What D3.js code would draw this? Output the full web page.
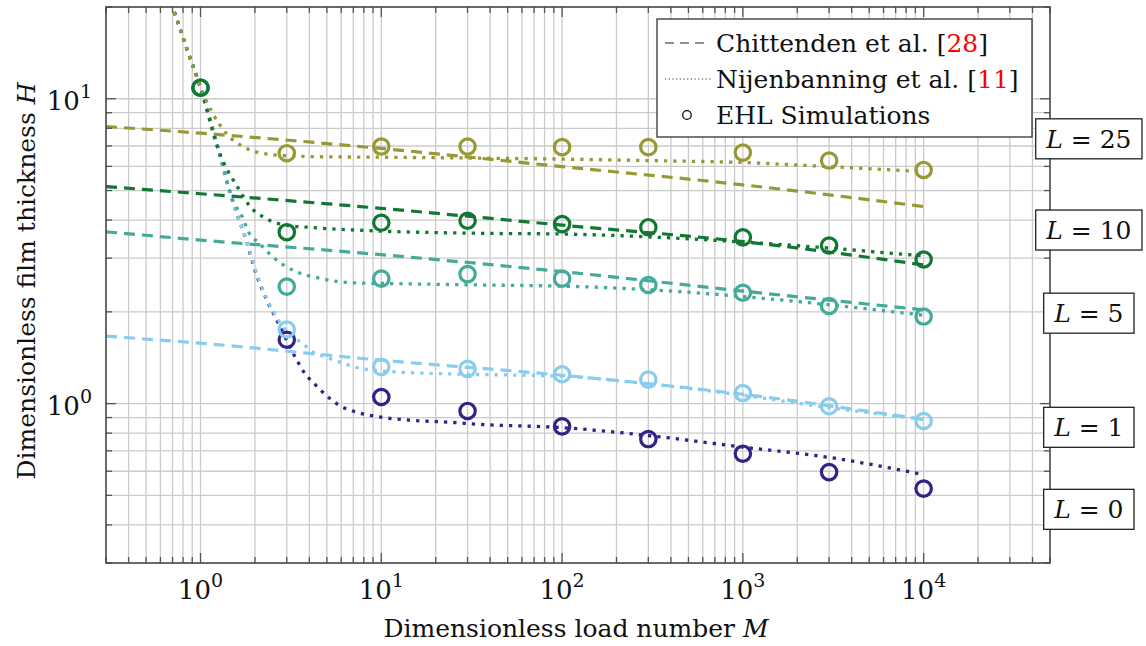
<!DOCTYPE html>
<html>
<head>
<meta charset="utf-8">
<script src="https://cdn.jsdelivr.net/npm/d3@7"></script>
<style>
  body { margin: 0; background: #fff; }
  svg { display: block; }
</style>
</head>
<body>
<svg id="chart" width="1146" height="646" font-family="'DejaVu Serif', 'Liberation Serif', serif"></svg>
<script>
// ---------------- data ----------------
// EHL simulation results: load number M vs. film thickness H for each L
const simM   = [1, 3, 10, 30, 100, 300, 1000, 3000, 10000];
const simL0  = [10.87, 1.62, 1.051, 0.946, 0.842, 0.765, 0.685, 0.596, 0.526];
const simL1  = [10.87, 1.75, 1.32, 1.30, 1.248, 1.199, 1.083, 0.98, 0.877];
const simL5  = [10.87, 2.42, 2.57, 2.66, 2.57, 2.45, 2.31, 2.09, 1.93];
const simL10 = [10.87, 3.65, 3.92, 3.98, 3.88, 3.79, 3.51, 3.30, 2.97];
const simL25 = [null, 6.63, 6.97, 6.97, 6.94, 6.94, 6.66, 6.27, 5.84];

// Chittenden et al. film thickness formula
const chittM   = [0.3, 1, 10, 100, 1000, 10000];
const chittL1  = [1.664, 1.578, 1.388, 1.239, 1.073, 0.887];
const chittL5  = [3.66, 3.44, 3.08, 2.71, 2.34, 2.03];
const chittL10 = [5.15, 4.88, 4.37, 3.85, 3.40, 2.85];
const chittL25 = [8.11, 7.71, 6.87, 5.99, 5.22, 4.43];

// Nijenbanning et al. curve fit
const nijM_L0 = [0.69, 0.85, 1, 1.26, 1.51, 1.78, 2.03, 2.35, 2.62, 3.37, 3.84, 4.17, 4.95, 5.86, 7.26, 9.75, 14.9, 22.9, 34.9, 100, 292, 1000, 2900, 10000];
const nijH_L0 = [20.6, 14.3, 10.87, 6.76, 4.57, 3.47, 2.67, 2.16, 1.90, 1.406, 1.239, 1.178, 1.065, 0.987, 0.938, 0.904, 0.881, 0.870, 0.855, 0.834, 0.787, 0.720, 0.668, 0.585];
const nijM_L1 = [0.69, 0.85, 1, 1.26, 1.51, 1.79, 2.11, 2.62, 2.97, 3.24, 3.67, 4.17, 4.95, 5.86, 7.89, 12.1, 30.8, 100, 292, 1000, 3000, 10000];
const nijH_L1 = [20.6, 14.3, 10.87, 6.76, 4.57, 3.44, 2.54, 1.93, 1.74, 1.655, 1.575, 1.478, 1.42, 1.37, 1.30, 1.27, 1.248, 1.23, 1.163, 1.065, 0.97, 0.888];
const nijM_L5 = [0.69, 0.85, 1, 1.26, 1.51, 1.70, 1.86, 2.11, 2.51, 3.24, 4.54, 6.95, 9.75, 34.9, 125, 447, 1585, 10000];
const nijH_L5 = [20.6, 14.3, 10.87, 6.76, 4.65, 4.1, 3.62, 3.36, 3.03, 2.74, 2.58, 2.49, 2.48, 2.45, 2.42, 2.33, 2.19, 1.95];
const nijM_L10 = [0.69, 0.85, 1, 1.26, 1.64, 1.87, 2.30, 2.97, 4.17, 10, 35, 100, 1000, 10000];
const nijH_L10 = [20.6, 14.3, 10.87, 6.76, 5.02, 4.45, 4.05, 3.85, 3.78, 3.68, 3.62, 3.60, 3.39, 3.05];
const nijM_L25 = [0.69, 0.85, 1, 1.167, 1.41, 1.71, 2.11, 2.51, 4.16, 10, 32, 100, 292, 1000, 2990, 10000];
const nijH_L25 = [20.6, 14.3, 10.87, 8.97, 7.62, 6.97, 6.66, 6.55, 6.46, 6.43, 6.39, 6.34, 6.27, 6.18, 5.99, 5.77];

// Series labels, colours and label anchor heights
const seriesNames  = ["L = 0", "L = 1", "L = 5", "L = 10", "L = 25"];
const seriesValues = ["0", "1", "5", "10", "25"];
const seriesColors = ["#332288", "#88ccee", "#44aa99", "#117733", "#999933"];
const labelH       = [0.45, 0.836, 1.98, 3.71, 7.39];
const labelM       = 8.2e4;

// Axis settings
const xDomain = [0.3, 5e4];
const yDomain = [0.3, 20];
const xMajor = [1, 10, 100, 1000, 10000];
const yMajor = [1, 10];
const xTitle = "Dimensionless load number ";
const yTitle = "Dimensionless film thickness ";
const legendItems = [
  { text: "Chittenden et al. [", ref: "28", kind: "dash" },
  { text: "Nijenbanning et al. [", ref: "11", kind: "dot" },
  { text: "EHL Simulations", ref: null, kind: "circle" }
];

// ---------------- assemble series ----------------
const series = seriesNames.map((name, i) => ({
  name, value: seriesValues[i], color: seriesColors[i],
  sim: simM.map((m, j) => ({ m, h: [simL0, simL1, simL5, simL10, simL25][i][j] })).filter(d => d.h != null),
  chitt: i === 0 ? null : chittM.map((m, j) => ({ m, h: [null, chittL1, chittL5, chittL10, chittL25][i][j] })),
  nij: [nijM_L0, nijM_L1, nijM_L5, nijM_L10, nijM_L25][i].map((m, j) => ({ m, h: [nijH_L0, nijH_L1, nijH_L5, nijH_L10, nijH_L25][i][j] })),
  labelH: labelH[i]
}));

// ---------------- layout ----------------
const svg = d3.select("#chart");
const plot = { left: 106, right: 1050, top: 7, bottom: 563 };
const x = d3.scaleLog().domain(xDomain).range([plot.left, plot.right]);
const y = d3.scaleLog().domain(yDomain).range([plot.bottom, plot.top]);

const xTicksAll = x.ticks().filter(v => v >= xDomain[0] * 0.999 && v <= xDomain[1] * 1.001);
const yTicksAll = y.ticks().filter(v => v >= yDomain[0] * 0.999 && v <= yDomain[1] * 1.001);
const isMajor = v => Math.abs(Math.log10(v) - Math.round(Math.log10(v))) < 1e-9;

// grid
const grid = svg.append("g").attr("stroke", "#cbcbcb").attr("stroke-width", 1.3);
grid.selectAll("line.gx").data(xTicksAll).join("line")
  .attr("x1", d => x(d)).attr("x2", d => x(d))
  .attr("y1", plot.top).attr("y2", plot.bottom);
grid.selectAll("line.gy").data(yTicksAll).join("line")
  .attr("y1", d => y(d)).attr("y2", d => y(d))
  .attr("x1", plot.left).attr("x2", plot.right);

// data layer clipped to plot area
svg.append("clipPath").attr("id", "plotClip").append("rect")
  .attr("x", plot.left).attr("y", plot.top)
  .attr("width", plot.right - plot.left).attr("height", plot.bottom - plot.top);
const dataLayer = svg.append("g").attr("clip-path", "url(#plotClip)");

const line = d3.line().x(d => x(d.m)).y(d => y(d.h)).curve(d3.curveMonotoneX);

series.forEach(s => {
  if (s.chitt) {
    dataLayer.append("path").datum(s.chitt)
      .attr("d", line).attr("fill", "none")
      .attr("stroke", s.color).attr("stroke-width", 3.2)
      .attr("stroke-dasharray", "11,7");
  }
  dataLayer.append("path").datum(s.nij)
    .attr("d", line).attr("fill", "none")
    .attr("stroke", s.color).attr("stroke-width", 3.3)
    .attr("stroke-dasharray", "3.3,6");
});
series.forEach(s => {
  dataLayer.selectAll(null).data(s.sim).join("circle")
    .attr("cx", d => x(d.m)).attr("cy", d => y(d.h)).attr("r", 7.7)
    .attr("fill", "none").attr("stroke", s.color).attr("stroke-width", 3.2);
});

// ticks on all four sides, pointing inward
const tickG = svg.append("g").attr("stroke", "#555").attr("stroke-width", 1.3);
const tLen = v => isMajor(v) ? 10 : 6;
tickG.selectAll(null).data(xTicksAll).join("line")
  .attr("x1", d => x(d)).attr("x2", d => x(d))
  .attr("y1", plot.bottom).attr("y2", d => plot.bottom - tLen(d));
tickG.selectAll(null).data(xTicksAll).join("line")
  .attr("x1", d => x(d)).attr("x2", d => x(d))
  .attr("y1", plot.top).attr("y2", d => plot.top + tLen(d));
tickG.selectAll(null).data(yTicksAll).join("line")
  .attr("y1", d => y(d)).attr("y2", d => y(d))
  .attr("x1", plot.left).attr("x2", d => plot.left + tLen(d));
tickG.selectAll(null).data(yTicksAll).join("line")
  .attr("y1", d => y(d)).attr("y2", d => y(d))
  .attr("x1", plot.right).attr("x2", d => plot.right - tLen(d));

// frame
svg.append("rect")
  .attr("x", plot.left).attr("y", plot.top)
  .attr("width", plot.right - plot.left).attr("height", plot.bottom - plot.top)
  .attr("fill", "none").attr("stroke", "#444").attr("stroke-width", 1.5);

// tick labels as 10^k
function powerLabel(sel) {
  sel.text("10").append("tspan")
    .attr("dy", -12).attr("font-size", 19)
    .text(d => Math.round(Math.log10(d)));
}
svg.append("g").selectAll("text").data(xMajor).join("text")
  .attr("x", d => x(d)).attr("y", 599).attr("text-anchor", "middle")
  .attr("font-size", 26).attr("fill", "#111").call(powerLabel);
svg.append("g").selectAll("text").data(yMajor).join("text")
  .attr("x", 92).attr("y", d => y(d) + 11).attr("text-anchor", "end")
  .attr("font-size", 26).attr("fill", "#111").call(powerLabel);

// axis titles
const xt = svg.append("text").attr("x", 576).attr("y", 637)
  .attr("text-anchor", "middle").attr("font-size", 25).attr("fill", "#111");
xt.append("tspan").text(xTitle);
xt.append("tspan").attr("font-style", "italic").text("M");

const yt = svg.append("text").attr("transform", "translate(35,281) rotate(-90)")
  .attr("text-anchor", "middle").attr("font-size", 25).attr("fill", "#111");
yt.append("tspan").text(yTitle);
yt.append("tspan").attr("font-style", "italic").text("H");

// legend
const lg = svg.append("g");
lg.append("rect").attr("x", 657).attr("y", 19).attr("width", 375).attr("height", 118)
  .attr("fill", "#fff").attr("stroke", "#222").attr("stroke-width", 1.2);
legendItems.forEach((it, i) => {
  const base = 52 + i * 36;
  const midY = base - 9;
  if (it.kind === "dash") {
    lg.append("line").attr("x1", 665).attr("x2", 706).attr("y1", midY).attr("y2", midY)
      .attr("stroke", "#222").attr("stroke-width", 1.2).attr("stroke-dasharray", "9,6");
  } else if (it.kind === "dot") {
    lg.append("line").attr("x1", 665).attr("x2", 711).attr("y1", midY).attr("y2", midY)
      .attr("stroke", "#222").attr("stroke-width", 1.1).attr("stroke-dasharray", "1.1,2.6");
  } else {
    lg.append("circle").attr("cx", 687).attr("cy", midY).attr("r", 4.3)
      .attr("fill", "none").attr("stroke", "#111").attr("stroke-width", 1.3);
  }
  const t = lg.append("text").attr("x", 716).attr("y", base)
    .attr("font-size", 25).attr("fill", "#111");
  t.append("tspan").text(it.text);
  if (it.ref) {
    t.append("tspan").attr("fill", "#ff0000").text(it.ref);
    t.append("tspan").text("]");
  }
});

// series labels beside the right axis
const lab = svg.append("g");
series.forEach(s => {
  const cx = x(labelM), cy = y(s.labelH);
  const g = lab.append("g");
  const rect = g.append("rect");
  const t = g.append("text").attr("x", cx).attr("y", cy + 9)
    .attr("text-anchor", "middle").attr("font-size", 25).attr("fill", "#111");
  t.append("tspan").attr("font-style", "italic").text("L");
  t.append("tspan").text(" = " + s.value);
  const bb = t.node().getBBox();
  const w = bb.width + 20;
  rect.attr("x", cx - w / 2).attr("y", cy - 20).attr("width", w).attr("height", 40)
    .attr("fill", "#fff").attr("stroke", "#222").attr("stroke-width", 1.3);
});
</script>
</body>
</html>
